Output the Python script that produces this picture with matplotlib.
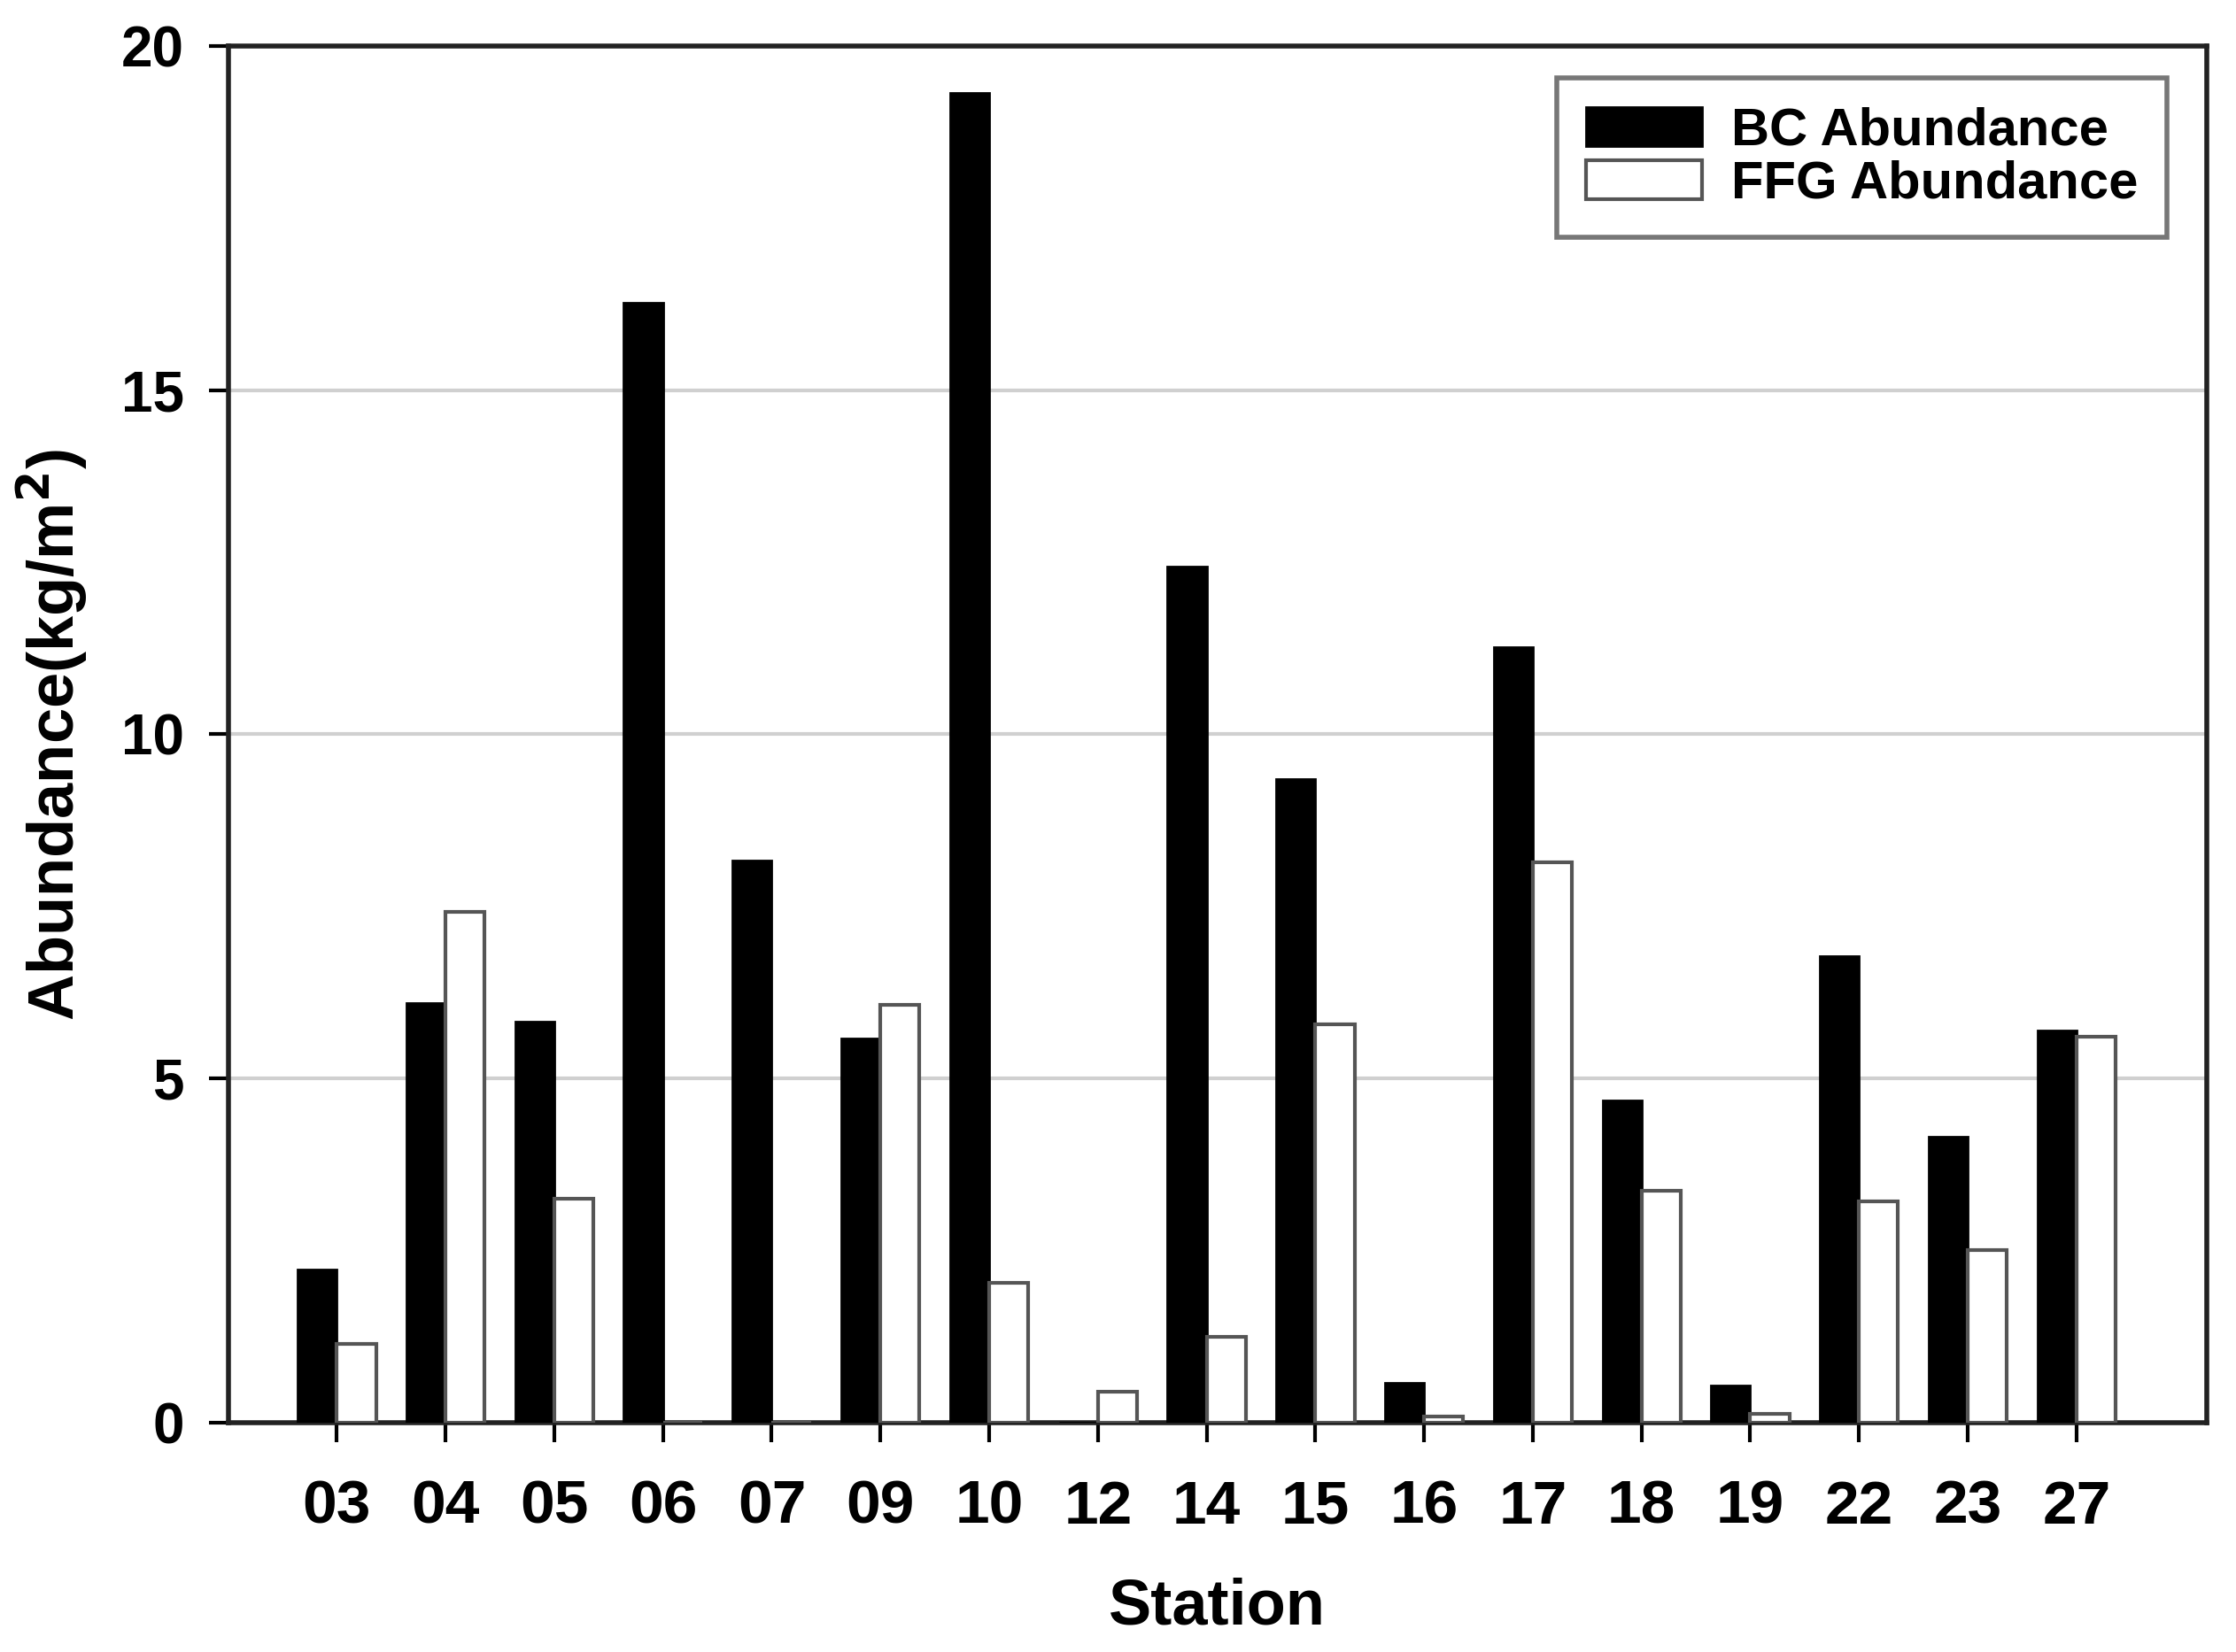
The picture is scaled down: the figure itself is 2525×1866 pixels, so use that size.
import numpy as np
import matplotlib.pyplot as plt

# stations and abundances (kg/m2)
stations = ['03', '04', '05', '06', '07', '09', '10', '12', '14', '15',
            '16', '17', '18', '19', '22', '23', '27']
bc = [2.22, 6.09, 5.82, 16.27, 8.17, 5.58, 19.32, 0.0, 12.44, 9.35,
      0.58, 11.27, 4.68, 0.54, 6.78, 4.15, 5.70]
ffg = [1.14, 7.42, 3.25, 0.0, 0.0, 6.07, 2.03, 0.44, 1.24, 5.78,
       0.08, 8.14, 3.36, 0.12, 3.21, 2.51, 5.60]

plt.rcParams['font.family'] = ['Liberation Sans', 'DejaVu Sans']
plt.rcParams['font.weight'] = 'bold'

fig = plt.figure(figsize=(25.25, 18.66), dpi=100)
ax = fig.add_axes([0.102, 0.139, 0.885, 0.833])

x = np.arange(len(stations))
w = 0.36
ax.bar(x - w / 2, bc, w, color='black', edgecolor='black', linewidth=2,
       label='BC Abundance', zorder=3)
ax.bar(x + w / 2, ffg, w, color='white', edgecolor='#555555', linewidth=3,
       label='FFG Abundance', zorder=3)

ax.set_xlim(-1, 17.2)
ax.set_ylim(0, 20)
ax.set_yticks([0, 5, 10, 15, 20])
ax.set_xticks(x)
ax.set_xticklabels(stations, fontsize=50, fontweight='bold')
ax.yaxis.grid(True, color='#d0d0d0', linewidth=3, zorder=0)
ax.tick_params(axis='both', direction='out', width=3)
ax.tick_params(axis='x', length=16, pad=30)
ax.tick_params(axis='y', length=16, pad=20, labelsize=46)
for s in ax.spines.values():
    s.set_linewidth(4)
    s.set_color('#222222')

ax.set_xlabel('Station', fontsize=52, fontweight='bold', labelpad=34)
ax.set_ylabel('Abundance(kg/m$^\\mathbf{2}$)', fontsize=52, fontweight='bold',
              labelpad=24)

leg = ax.legend(loc='upper right', fontsize=43, frameon=True, fancybox=False,
                edgecolor='#555555', handlelength=2.2, handleheight=0.75,
                borderpad=0.55, labelspacing=0.08, handletextpad=0.55,
                borderaxespad=0, bbox_to_anchor=(0.98, 0.977))
leg.get_frame().set_linewidth(4)

fig.savefig('out.png', dpi=100)
